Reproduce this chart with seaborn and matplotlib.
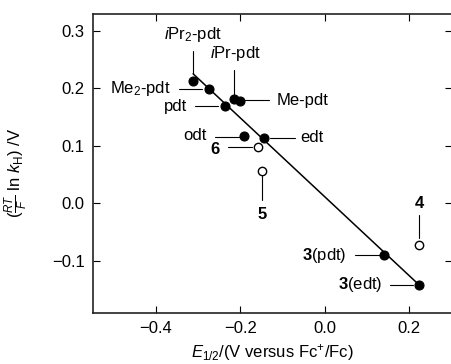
import matplotlib
matplotlib.use("Agg")
import matplotlib.pyplot as plt
import numpy as np
import pandas as pd
import seaborn as sns

# complexes: E1/2 (V vs Fc+/Fc) and (RT/F) ln kH (V)
names = ['iPr2-pdt', 'Me2-pdt', 'pdt', 'iPr-pdt', 'Me-pdt', 'odt', 'edt',
         '6', '5', '4', '3(pdt)', '3(edt)']
e_half = [-0.313, -0.274, -0.236, -0.214, -0.201, -0.192, -0.145,
          -0.157, -0.149, 0.224, 0.141, 0.224]
rt_ln_k = [0.213, 0.199, 0.169, 0.181, 0.178, 0.117, 0.113,
           0.098, 0.056, -0.0725, -0.090, -0.142]
filled = [True, True, True, True, True, True, True,
          False, False, False, True, True]

# fitted line end points
fit_x = [-0.312, 0.224]
fit_y = [0.225, -0.142]

df = pd.DataFrame({'name': names, 'E': e_half, 'k': rt_ln_k, 'filled': filled})

sns.set_theme(style='ticks')
plt.rcParams.update({
    'font.family': ['Liberation Sans', 'DejaVu Sans'],
    'mathtext.fontset': 'custom',
    'mathtext.rm': 'Liberation Sans',
    'mathtext.it': 'Liberation Sans:italic',
    'mathtext.bf': 'Liberation Sans:bold',
    'text.color': 'black',
    'axes.labelcolor': 'black',
    'xtick.color': 'black',
    'ytick.color': 'black',
    'axes.edgecolor': '#222222',
    'axes.linewidth': 1.2,
    'xtick.direction': 'in',
    'ytick.direction': 'in',
    'xtick.major.size': 5,
    'ytick.major.size': 5,
    'xtick.major.width': 0.8,
    'ytick.major.width': 0.8,
    'xtick.labelsize': 12,
    'ytick.labelsize': 12,
    'axes.labelsize': 12,
})

fig = plt.figure(figsize=(4.52, 3.64), dpi=100)
ax = fig.add_axes([93 / 452, 1 - 313 / 364, 359 / 452, 299 / 364])

sns.lineplot(x=fit_x, y=fit_y, color='black', linewidth=1.1, ax=ax)
sns.scatterplot(data=df[df['filled']], x='E', y='k', color='black',
                edgecolor='black', s=42, linewidth=0.8, zorder=3, ax=ax)
sns.scatterplot(data=df[~df['filled']], x='E', y='k', color='white',
                edgecolor='black', s=36, linewidth=1.0, zorder=3, ax=ax)

# leader lines: (x0, x1, y0, y1)
leaders = [
    (-0.313, -0.313, 0.225, 0.265),
    (-0.345, -0.291, 0.199, 0.199),
    (-0.307, -0.253, 0.169, 0.169),
    (-0.214, -0.214, 0.188, 0.232),
    (-0.189, -0.133, 0.179, 0.179),
    (-0.260, -0.201, 0.116, 0.116),
    (-0.229, -0.173, 0.097, 0.097),
    (-0.130, -0.071, 0.114, 0.114),
    (-0.149, -0.149, 0.006, 0.047),
    (0.224, 0.224, -0.061, -0.020),
    (0.072, 0.131, -0.0904, -0.0904),
    (0.155, 0.210, -0.142, -0.142),
]
for x0, x1, y0, y1 in leaders:
    ax.plot([x0, x1], [y0, y1], color='black', linewidth=0.8)

labels = [
    (-0.313, 0.293, r'$\mathit{i}$Pr$_2$-pdt', 'center', 'normal'),
    (-0.366, 0.200, r'Me$_2$-pdt', 'right', 'normal'),
    (-0.326, 0.169, 'pdt', 'right', 'normal'),
    (-0.211, 0.261, r'$\mathit{i}$Pr-pdt', 'center', 'normal'),
    (-0.115, 0.179, 'Me-pdt', 'left', 'normal'),
    (-0.280, 0.117, 'odt', 'right', 'normal'),
    (-0.259, 0.094, '6', 'center', 'bold'),
    (-0.057, 0.115, 'edt', 'left', 'normal'),
    (-0.149, -0.019, '5', 'center', 'bold'),
    (0.224, 0.0, '4', 'center', 'bold'),
    (0.052, -0.0904, r'$\mathbf{3}$(pdt)', 'right', 'normal'),
    (0.136, -0.142, r'$\mathbf{3}$(edt)', 'right', 'normal'),
]
for x, y, txt, ha, w in labels:
    ax.text(x, y, txt, ha=ha, va='center', fontsize=12, fontweight=w)

ax.set_xlim(-0.5495, 0.302)
ax.set_ylim(-0.1908, 0.329)
ax.set_xticks([-0.4, -0.2, 0.0, 0.2])
ax.set_yticks([-0.1, 0.0, 0.1, 0.2, 0.3])
ax.xaxis.set_major_formatter(plt.FuncFormatter(lambda v, p: f'{v:.1f}'.replace('-', '\u2212')))
ax.yaxis.set_major_formatter(plt.FuncFormatter(lambda v, p: f'{v:.1f}'.replace('-', '\u2212')))
ax.tick_params(top=True, right=True, pad=6)

ax.set_xlabel(r'$\mathit{E}_{1/2}$/(V versus Fc$^{+}$/Fc)', labelpad=4)
ax.set_ylabel(r'($\frac{RT}{F}$ ln $\mathit{k}_{\mathrm{H}}$) /V')
ax.yaxis.set_label_coords(-0.175, 0.47)

fig.savefig('out.png', dpi=100)
